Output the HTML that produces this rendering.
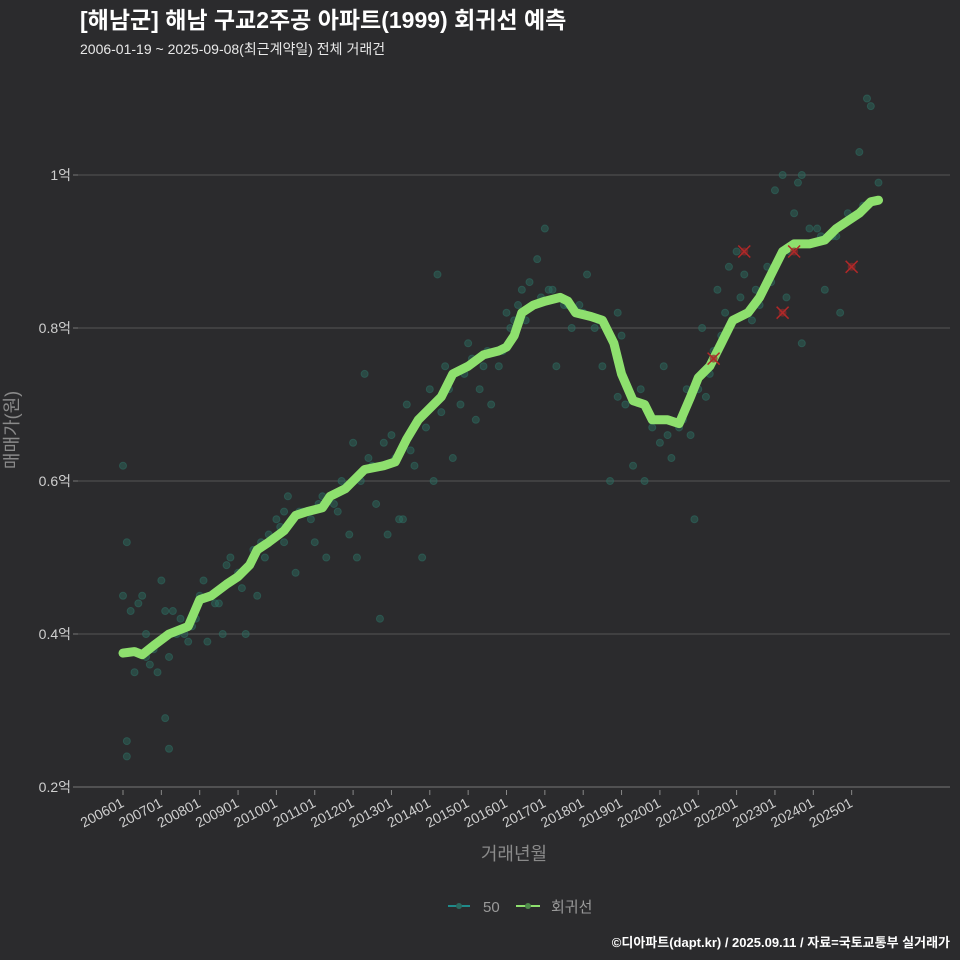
<!DOCTYPE html>
<html><head><meta charset="utf-8">
<style>
html,body{margin:0;padding:0;background:#2b2b2d;width:960px;height:960px;overflow:hidden;}
body{font-family:"Liberation Sans","Noto Sans CJK KR",sans-serif;}
svg{display:block;}
</style></head>
<body>
<svg id="chart" width="960" height="960" xmlns="http://www.w3.org/2000/svg" style="font-family:'Liberation Sans','Noto Sans CJK KR',sans-serif">
<rect width="960" height="960" fill="#2b2b2d"/>
<text x="80" y="28" fill="#ffffff" font-size="23" font-weight="bold">[해남군] 해남 구교2주공 아파트(1999) 회귀선 예측</text>
<text x="80" y="54" fill="#e8e8e8" font-size="14">2006-01-19 ~ 2025-09-08(최근계약일) 전체 거래건</text>
<g id="grid"></g>
<g id="dots"></g>
<g id="line"></g>
<g id="xmarks"></g>
<g id="xaxis"></g>
<text x="18" y="430" fill="#8a8a8a" font-size="18" transform="rotate(-90 18 430)" text-anchor="middle">매매가(원)</text>
<text x="514" y="860" fill="#8a8a8a" font-size="18" text-anchor="middle">거래년월</text>
<g>
<g>
<line x1="448" y1="906" x2="470" y2="906" stroke="#1f8a8a" stroke-width="2"/><circle cx="459" cy="906" r="3" fill="#2a6a60"/>
<text x="483" y="912" fill="#9a9a9a" font-size="15">50</text></g>
<g>
<line x1="516" y1="906" x2="540" y2="906" stroke="#8ee06e" stroke-width="2"/><circle cx="528" cy="906" r="3" fill="#4e8a4a"/>
<text x="551" y="912" fill="#9a9a9a" font-size="15">회귀선</text></g>
</g>
<text x="950" y="947" fill="#ffffff" font-size="13" font-weight="bold" text-anchor="end">©디아파트(dapt.kr) / 2025.09.11 / 자료=국토교통부 실거래가</text>
</svg>
<script>
const yTicks=[0.2,0.4,0.6,0.8,1.0];
const yTickLabels=["0.2억","0.4억","0.6억","0.8억","1억"];
const xTickYears=[2006,2007,2008,2009,2010,2011,2012,2013,2014,2015,2016,2017,2018,2019,2020,2021,2022,2023,2024,2025];
const xTickLabels=["200601","200701","200801","200901","201001","201101","201201","201301","201401","201501","201601","201701","201801","201901","202001","202101","202201","202301","202401","202501"];
const regT=[2006.0,2006.3,2006.5,2006.8,2007.2,2007.7,2008.0,2008.3,2008.7,2009.0,2009.3,2009.5,2009.8,2010.2,2010.5,2010.8,2011.2,2011.4,2011.8,2012.0,2012.3,2012.8,2013.1,2013.4,2013.7,2014.0,2014.3,2014.6,2015.0,2015.4,2015.8,2016.0,2016.2,2016.4,2016.7,2017.0,2017.4,2017.6,2017.8,2018.2,2018.5,2018.8,2019.0,2019.3,2019.6,2019.8,2020.2,2020.5,2020.8,2021.0,2021.3,2021.6,2021.9,2022.3,2022.6,2022.9,2023.2,2023.5,2023.9,2024.3,2024.6,2024.9,2025.2,2025.5,2025.7];
const regV=[0.375,0.377,0.373,0.385,0.40,0.41,0.445,0.45,0.465,0.475,0.49,0.51,0.52,0.535,0.555,0.56,0.565,0.58,0.59,0.60,0.615,0.62,0.625,0.655,0.68,0.695,0.71,0.74,0.75,0.765,0.77,0.775,0.79,0.82,0.83,0.835,0.84,0.835,0.82,0.815,0.81,0.78,0.74,0.705,0.70,0.68,0.68,0.675,0.71,0.735,0.75,0.78,0.81,0.82,0.84,0.87,0.90,0.91,0.91,0.915,0.93,0.94,0.95,0.965,0.967];
const dotT=[2006.0,2006.1,2006.1,2006.2,2006.3,2006.4,2006.5,2006.6,2006.7,2006.8,2006.9,2007.0,2007.1,2007.2,2007.3,2007.5,2007.6,2007.7,2007.8,2008.0,2008.1,2008.2,2008.4,2008.6,2008.8,2009.0,2009.2,2009.4,2009.5,2009.6,2009.8,2010.0,2010.2,2010.3,2010.5,2010.7,2010.9,2011.0,2011.2,2011.3,2011.5,2011.7,2011.9,2012.0,2012.1,2012.3,2012.5,2012.6,2012.8,2012.9,2013.0,2013.2,2013.4,2013.6,2013.8,2014.0,2014.1,2014.2,2014.4,2014.6,2014.8,2015.0,2015.2,2015.4,2015.6,2015.8,2016.0,2016.2,2016.4,2016.6,2016.8,2017.0,2017.1,2017.3,2017.5,2017.7,2017.9,2018.1,2018.3,2018.5,2018.7,2018.9,2019.1,2019.3,2019.6,2019.9,2020.1,2020.3,2020.5,2020.7,2020.9,2021.1,2021.3,2021.5,2021.6,2021.8,2022.0,2022.2,2022.4,2022.6,2022.8,2023.0,2023.2,2023.3,2023.5,2023.6,2023.7,2023.9,2024.1,2024.3,2024.5,2024.7,2024.9,2025.2,2025.4,2025.5,2025.7,2006.0,2006.1,2007.1,2007.2,2009.8,2008.7,2010.2,2012.7,2013.3,2015.3,2018.9,2020.8,2021.2,2023.7,2025.3,
2006.6,2007.4,2007.9,2008.5,2009.1,2009.7,2010.1,2010.6,2011.1,2011.6,2012.2,2012.4,2013.1,2013.5,2013.9,2014.3,2014.5,2014.9,2015.1,2015.5,2015.9,2016.1,2016.3,2016.5,2016.9,2017.2,2017.6,2018.0,2018.4,2019.0,2019.5,2019.8,2020.0,2020.2,2020.6,2021.0,2021.4,2021.7,2022.1,2022.5,2022.9,2023.4,2023.8,2024.2,2024.6];
const dotV=[0.45,0.26,0.24,0.43,0.35,0.44,0.45,0.40,0.36,0.38,0.35,0.47,0.29,0.25,0.43,0.42,0.40,0.39,0.41,0.45,0.47,0.39,0.44,0.40,0.50,0.48,0.40,0.51,0.45,0.52,0.53,0.55,0.52,0.58,0.48,0.56,0.55,0.52,0.58,0.50,0.57,0.60,0.53,0.65,0.50,0.74,0.62,0.57,0.65,0.53,0.66,0.55,0.70,0.62,0.50,0.72,0.60,0.87,0.75,0.63,0.70,0.78,0.68,0.75,0.70,0.75,0.82,0.81,0.85,0.86,0.89,0.93,0.85,0.75,0.83,0.80,0.83,0.87,0.80,0.75,0.60,0.82,0.70,0.62,0.60,0.68,0.75,0.63,0.67,0.72,0.55,0.80,0.74,0.85,0.79,0.88,0.90,0.87,0.81,0.83,0.88,0.98,1.0,0.84,0.95,0.99,1.0,0.93,0.93,0.85,0.92,0.82,0.95,1.03,1.10,1.09,0.99,0.62,0.52,0.43,0.37,0.52,0.49,0.56,0.42,0.55,0.72,0.71,0.66,0.71,0.78,0.96,
0.37,0.40,0.42,0.44,0.46,0.50,0.54,0.56,0.57,0.56,0.60,0.63,0.63,0.64,0.67,0.69,0.72,0.74,0.76,0.77,0.77,0.80,0.83,0.81,0.84,0.85,0.83,0.82,0.81,0.79,0.72,0.67,0.65,0.66,0.68,0.72,0.77,0.82,0.84,0.85,0.86,0.90,0.91,0.92,0.92];
const xT=[2021.4,2022.2,2023.2,2023.5,2025.0];
const xV=[0.76,0.90,0.82,0.90,0.88];

const NS="http://www.w3.org/2000/svg";
const X0=123, PX=38.35, XL=78, XR=950;
function xs(t){return X0+(t-2006)*PX;}
function ys(v){return 787-(v-0.2)*765;}
function mk(tag,at,parent){const e=document.createElementNS(NS,tag);for(const k in at)e.setAttribute(k,at[k]);parent.appendChild(e);return e;}

const grid=document.getElementById('grid');
yTicks.forEach((v,i)=>{
  const l=mk('line',{x1:XL,x2:XR,y1:ys(v),y2:ys(v),stroke:i===0?'#777':'#555','stroke-width':1},grid);
  
  
  const tk=mk('line',{x1:XL-5,x2:XL,y1:ys(v),y2:ys(v),stroke:'#777'},grid);
  
  
  const t=mk('text',{x:XL-7,y:ys(v)+5,fill:'#cfcfcf','font-size':14,'text-anchor':'end'},grid);
  t.textContent=yTickLabels[i];
  
  
});
const xa=document.getElementById('xaxis');
xTickYears.forEach((y,i)=>{
  const x=xs(y);
  const tk=mk('line',{x1:x,x2:x,y1:790,y2:795,stroke:'#888'},xa);
  
  
  const t=mk('text',{x:x+2,y:806,fill:'#cfcfcf','font-size':14,'text-anchor':'end',transform:`rotate(-28 ${x+2} 806)`},xa);
  t.textContent=xTickLabels[i];
  
  
});
const dots=document.getElementById('dots');
dotT.forEach((t,i)=>{
  const c=mk('circle',{cx:xs(t),cy:ys(dotV[i]),r:3.5,fill:'#2d6e62','fill-opacity':0.45,stroke:'#2d6e62','stroke-opacity':0.55},dots);
  
  
});
const ln=document.getElementById('line');
const d=regT.map((t,i)=>(i?'L':'M')+xs(t).toFixed(1)+' '+ys(regV[i]).toFixed(1)).join(' ');
const p=mk('path',{d:d,fill:'none',stroke:'#8ee06e','stroke-width':9,'stroke-linejoin':'round','stroke-linecap':'round'},ln);


const xm=document.getElementById('xmarks');
xT.forEach((t,i)=>{
  const cx=xs(t),cy=ys(xV[i]);
  const g=mk('g',{},xm);
  
  
  mk('circle',{cx:cx,cy:cy,r:4,fill:'#8a2a2a','fill-opacity':0.7},g);
  mk('path',{d:`M${cx-6} ${cy-6}L${cx+6} ${cy+6}M${cx+6} ${cy-6}L${cx-6} ${cy+6}`,stroke:'#b02828','stroke-width':1.5},g);
});
</script>
</body></html>
